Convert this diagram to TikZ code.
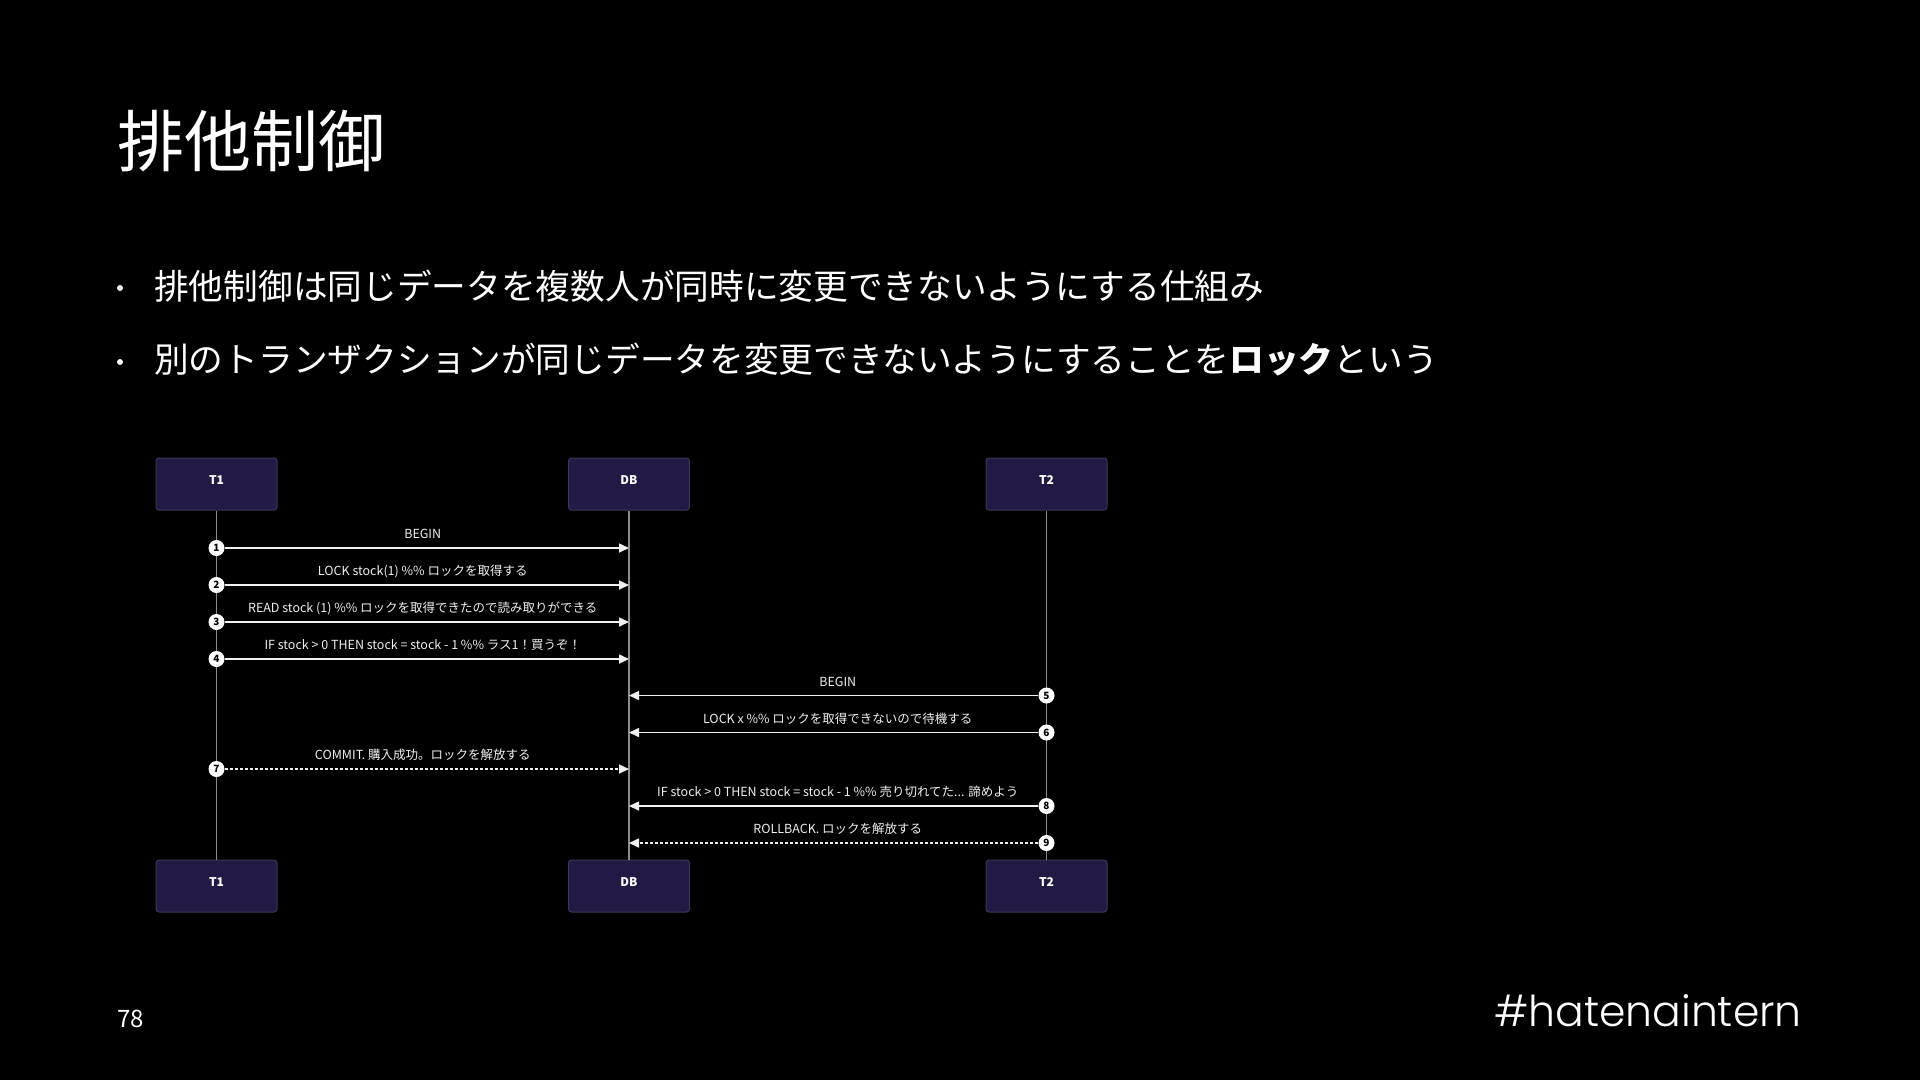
\documentclass[tikz,border=0pt]{standalone}
\usepackage{fontspec}
\setmainfont{Noto Sans CJK JP}
\newfontfamily\tagfont{Poppins}[UprightFont={* Light}]
\usetikzlibrary{arrows.meta}
\definecolor{bg}{HTML}{000000}
\definecolor{boxfill}{HTML}{221A45}
\definecolor{boxline}{HTML}{3C3856}
\definecolor{life}{HTML}{8C8C8C}
\definecolor{msg}{HTML}{F0F0F0}
\begin{document}
\begin{tikzpicture}[x=1pt,y=-1pt,
  actor/.style={draw=boxline, line width=1pt, fill=boxfill, rounded corners=3pt,
    minimum width=121pt, minimum height=52pt, inner sep=0pt, text=white,
    text depth=8pt, font=\fontsize{12}{14}\selectfont\bfseries},
  lifeline/.style={draw=life, line width=1.6pt},
  msgline/.style={draw=msg, line width=1.6pt, -{Triangle[length=10pt,width=9pt]}},
  retline/.style={msgline, dash pattern=on 3pt off 2pt},
  seqnum/.style={circle, fill=white, draw=none, minimum size=16pt, inner sep=0pt,
    text=black, font=\fontsize{10}{10}\selectfont\bfseries},
  lbl/.style={text=msg, font=\fontsize{12.5}{14}\selectfont, inner sep=0pt},
  bigtext/.style={text=white, inner sep=0pt, anchor=west},
  dot/.style={circle, fill=white, minimum size=6pt, inner sep=0pt}]
\fill[bg] (0,0) rectangle (1920,1080);
\useasboundingbox (0,0) rectangle (1920,1080);

% title and bullets
\node[bigtext, font=\fontsize{67}{67}\selectfont] (title) at (117,141) {排他制御};
\node[dot] (bd1) at (120,288) {};
\node[bigtext, font=\fontsize{34.7}{40}\selectfont] (b1) at (154,286.5)
  {排他制御は同じデータを複数人が同時に変更できないようにする仕組み};
\node[dot] (bd2) at (120,362) {};
\node[bigtext, font=\fontsize{34.7}{40}\selectfont] (b2) at (154,360)
  {別のトランザクションが同じデータを変更できないようにすることを{\bfseries ロック}という};

% actors
\node[actor] (t1top) at (216.5,484) {T1};
\node[actor] (dbtop) at (629,484) {DB};
\node[actor] (t2top) at (1046.5,484) {T2};
\node[actor] (t1bot) at (216.5,886) {T1};
\node[actor] (dbbot) at (629,886) {DB};
\node[actor] (t2bot) at (1046.5,886) {T2};
\draw[lifeline] (t1top.south) -- (t1bot.north);
\draw[lifeline] (dbtop.south) -- (dbbot.north);
\draw[lifeline] (t2top.south) -- (t2bot.north);

% messages T1 -> DB
\node[seqnum] (n1) at (216.5,548) {1};
\coordinate (e1) at (629,548);
\draw[msgline] (n1) -- (e1);
\node[lbl] (l1) at (422.75,534) {BEGIN};

\node[seqnum] (n2) at (216.5,585) {2};
\coordinate (e2) at (629,585);
\draw[msgline] (n2) -- (e2);
\node[lbl] (l2) at (422.75,571) {LOCK stock(1) \%\% ロックを取得する};

\node[seqnum] (n3) at (216.5,622) {3};
\coordinate (e3) at (629,622);
\draw[msgline] (n3) -- (e3);
\node[lbl] (l3) at (422.75,608) {READ stock (1) \%\% ロックを取得できたので読み取りができる};

\node[seqnum] (n4) at (216.5,659) {4};
\coordinate (e4) at (629,659);
\draw[msgline] (n4) -- (e4);
\node[lbl] (l4) at (422.75,645) {IF stock > 0 THEN stock = stock - 1 \%\% ラス1！買うぞ！};

% messages T2 -> DB
\node[seqnum] (n5) at (1046.5,695.5) {5};
\coordinate (e5) at (629,695.5);
\draw[msgline] (n5) -- (e5);
\node[lbl] (l5) at (837.75,681.5) {BEGIN};

\node[seqnum] (n6) at (1046.5,732.5) {6};
\coordinate (e6) at (629,732.5);
\draw[msgline] (n6) -- (e6);
\node[lbl] (l6) at (837.75,718.5) {LOCK x \%\% ロックを取得できないので待機する};

\node[seqnum] (n7) at (216.5,769) {7};
\coordinate (e7) at (629,769);
\draw[retline] (n7) -- (e7);
\node[lbl] (l7) at (422.75,755) {COMMIT. 購入成功。ロックを解放する};

\node[seqnum] (n8) at (1046.5,806) {8};
\coordinate (e8) at (629,806);
\draw[msgline] (n8) -- (e8);
\node[lbl] (l8) at (837.75,792) {IF stock > 0 THEN stock = stock - 1 \%\% 売り切れてた... 諦めよう};

\node[seqnum] (n9) at (1046.5,843) {9};
\coordinate (e9) at (629,843);
\draw[retline] (n9) -- (e9);
\node[lbl] (l9) at (837.75,829) {ROLLBACK. ロックを解放する};

% footer
\node[bigtext, font=\fontsize{24}{24}\selectfont] (pg) at (117,1019) {78};
\node[text=white, inner sep=0pt, anchor=east, font=\tagfont\fontsize{42.5}{48}\selectfont]
  (tag) at (1802,1011) {\#hatenaintern};
\end{tikzpicture}
\end{document}
